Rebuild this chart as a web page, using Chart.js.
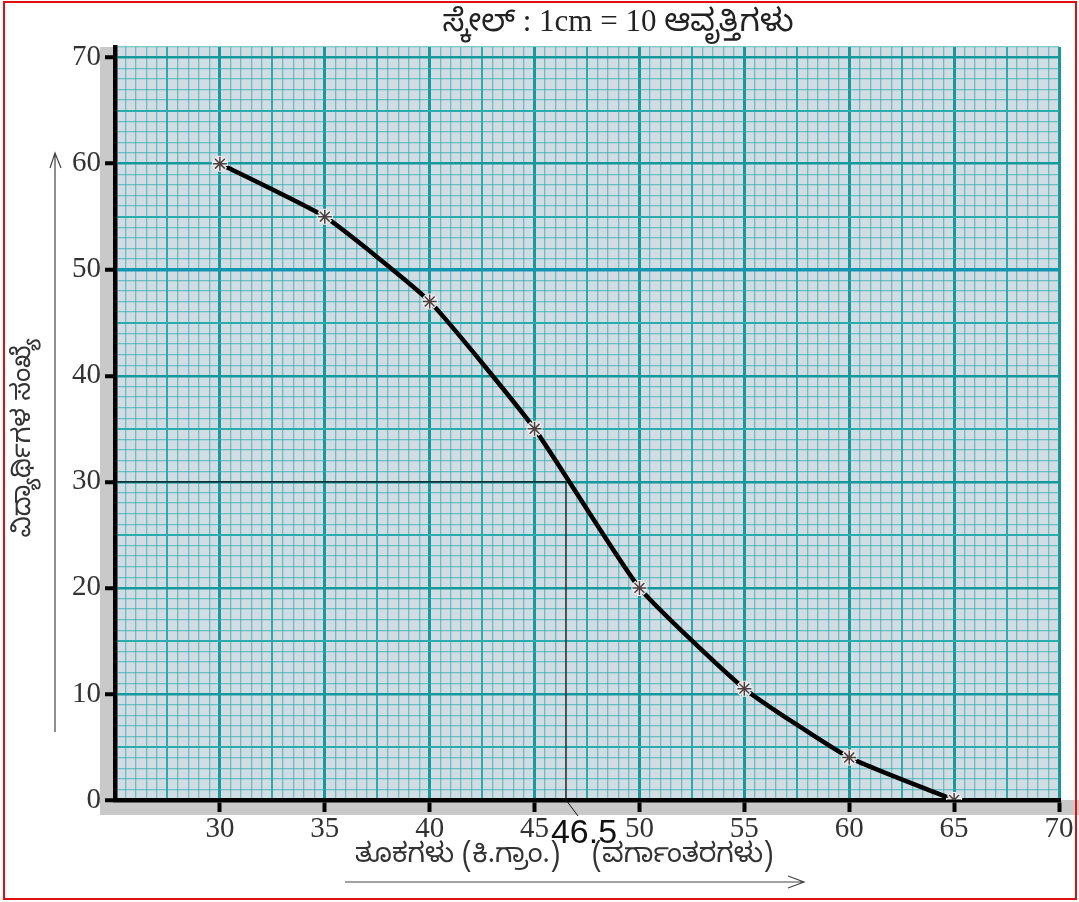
<!DOCTYPE html>
<html><head><meta charset="utf-8">
<script src="https://cdn.jsdelivr.net/npm/chart.js@4/dist/chart.umd.min.js"></script>
<style>html,body{margin:0;padding:0;background:#fff;overflow:hidden}canvas{display:block}</style>
</head><body><canvas id="c" width="1079" height="902"></canvas>
<script>
// ---- data ----
const weights = [30, 35, 40, 45, 50, 55, 60, 65];
const students = [60, 55, 47, 35, 20, 10.5, 4, 0];
const xTickLabels = [30, 35, 40, 45, 50, 55, 60, 65, 70];
const yTickLabels = [0, 10, 20, 30, 40, 50, 60, 70];
const medianX = 46.5;
const medianY = 30;
const titleText = 'ಸ್ಕೇಲ್ : 1cm = 10 ಆವೃತ್ತಿಗಳು';
const yTitleText = 'ವಿದ್ಯಾರ್ಥಿಗಳ ಸಂಖ್ಯೆ';
const xTitleText1 = 'ತೂಕಗಳು (ಕಿ.ಗ್ರಾಂ.)';
const xTitleText2 = '(ವರ್ಗಾಂತರಗಳು)';

const KN = '"Noto Sans Kannada","Noto Serif Kannada","Lohit Kannada","Noto Sans",sans-serif';
const SERIF = '"Liberation Serif","DejaVu Serif",serif';

const pts = weights.map((x, i) => ({x: x, y: students[i]}));
const medianPts = [{x: 25, y: medianY}, {x: medianX, y: medianY}, {x: medianX, y: 0}];

const MINOR = 'rgba(50,175,180,0.65)';
function xGridColor(ctx) {
  const v = ctx.tick.value;
  if (Math.abs(v % 5) < 1e-9) return '#15999d';
  if (Math.abs(v % 2.5) < 1e-9) return '#2aabad';
  return MINOR;
}
function xGridWidth(ctx) {
  const v = ctx.tick.value;
  if (Math.abs(v % 5) < 1e-9) return 3;
  if (Math.abs(v % 2.5) < 1e-9) return 2;
  return 1.3;
}
function yGridColor(ctx) {
  const v = ctx.tick.value;
  if (v === 50) return '#1596b0';
  if (v % 10 === 0) return '#15999d';
  if (v % 5 === 0) return '#2aabad';
  return MINOR;
}
function yGridWidth(ctx) {
  const v = ctx.tick.value;
  if (v === 50) return 3.5;
  if (v % 10 === 0) return 2.5;
  if (v % 5 === 0) return 2;
  return 1.3;
}

const decor = {
  id: 'decor',
  beforeDraw(chart) {
    const c = chart.ctx, a = chart.chartArea;
    c.save();
    c.fillStyle = '#fff';
    c.fillRect(0, 0, chart.width, chart.height);
    c.fillStyle = '#c9c9c9';
    c.fillRect(a.left - 15, a.top, 15, a.bottom - a.top + 15);
    c.fillRect(a.left - 15, a.bottom, chart.width - (a.left - 15), 15);
    c.fillStyle = '#d2dce3';
    c.fillRect(a.left, a.top, a.right - a.left, a.bottom - a.top);
    c.restore();
  },
  afterDraw(chart) {
    const c = chart.ctx, a = chart.chartArea;
    const xs = chart.scales.x;
    c.save();
    c.fillStyle = '#222';
    c.font = '31px "Liberation Serif",' + KN;
    c.textAlign = 'center';
    c.textBaseline = 'alphabetic';
    c.fillText(titleText, 618, 31);
    c.save();
    c.translate(27, 438);
    c.rotate(-Math.PI / 2);
    c.font = '26px ' + KN;
    c.fillStyle = '#333';
    c.textBaseline = 'middle';
    c.textAlign = 'center';
    c.fillText(yTitleText, 0, 0);
    c.restore();
    c.strokeStyle = '#444';
    c.lineWidth = 1.2;
    c.beginPath();
    c.moveTo(55, 732); c.lineTo(55, 154);
    c.moveTo(50, 168); c.lineTo(55, 153); c.lineTo(61, 168);
    c.stroke();
    c.font = '27px ' + KN;
    c.fillStyle = '#333';
    c.textBaseline = 'middle';
    c.textAlign = 'left';
    c.fillText(xTitleText1, 355, 859);
    c.fillText(xTitleText2, 592, 859);
    c.beginPath();
    c.moveTo(345, 882); c.lineTo(803, 882);
    c.moveTo(788, 876); c.lineTo(804, 882); c.lineTo(788, 888);
    c.stroke();
    const mx = xs.getPixelForValue(medianX);
    c.strokeStyle = '#111';
    c.lineWidth = 1;
    c.beginPath();
    c.moveTo(mx, a.bottom); c.lineTo(mx + 12, a.bottom + 16);
    c.stroke();
    c.font = '34px "Liberation Sans",Arial,sans-serif';
    c.fillStyle = '#111';
    c.textAlign = 'center';
    c.textBaseline = 'alphabetic';
    c.fillText(String(medianX), mx + 18, 843);
    c.strokeStyle = '#e01010';
    c.lineWidth = 2;
    c.strokeRect(4, 2, 1072, 897);
    c.restore();
  }
};

new Chart(document.getElementById('c'), {
  type: 'line',
  data: {
    datasets: [
      {data: pts, showLine: false, pointStyle: 'star', pointRadius: 7, pointBorderColor: '#4a4040', pointBorderWidth: 1.5, pointBackgroundColor: 'transparent'},
      {data: pts, showLine: false, pointStyle: 'star', pointRadius: 8, pointBorderColor: '#eeeeee', pointBorderWidth: 4.5, pointBackgroundColor: 'transparent'},
      {data: pts, borderColor: '#000', borderWidth: 4.5, tension: 0.15, pointRadius: 0, fill: false, clip: false},
      {data: medianPts, borderColor: '#111', borderWidth: 1.2, tension: 0, pointRadius: 0, fill: false}
    ]
  },
  options: {
    responsive: false,
    animation: false,
    devicePixelRatio: 1,
    events: [],
    layout: {padding: {top: 47, right: 20, left: 0, bottom: 0}},
    plugins: {legend: {display: false}, tooltip: {enabled: false}, title: {display: false}},
    scales: {
      x: {
        type: 'linear', min: 25, max: 70,
        border: {color: '#000', width: 4.5},
        grid: {color: xGridColor, lineWidth: xGridWidth, drawTicks: true, tickLength: 12,
               tickColor: ctx => xTickLabels.includes(ctx.tick.value) ? '#000' : 'rgba(0,0,0,0)', tickWidth: 4},
        ticks: {stepSize: 0.5, autoSkip: false, maxTicksLimit: 1000, maxRotation: 0, padding: 0,
                color: '#333', font: {family: SERIF, size: 29},
                callback: v => xTickLabels.includes(v) ? String(v) : ''},
        afterFit: s => { s.height = 102; s.paddingLeft = 0; s.paddingRight = 0; }
      },
      y: {
        type: 'linear', min: 0, max: 71,
        border: {color: '#000', width: 4.5},
        grid: {color: yGridColor, lineWidth: yGridWidth, drawTicks: true, tickLength: 10,
               tickColor: ctx => yTickLabels.includes(ctx.tick.value) ? '#000' : 'rgba(0,0,0,0)', tickWidth: 4},
        ticks: {stepSize: 1, autoSkip: false, maxTicksLimit: 1000, padding: 4,
                color: '#333', font: {family: SERIF, size: 29},
                callback: v => yTickLabels.includes(v) ? String(v) : ''},
        afterFit: s => { s.width = 115; s.paddingTop = 0; s.paddingBottom = 0; }
      }
    }
  },
  plugins: [decor]
});
</script>
</body></html>
